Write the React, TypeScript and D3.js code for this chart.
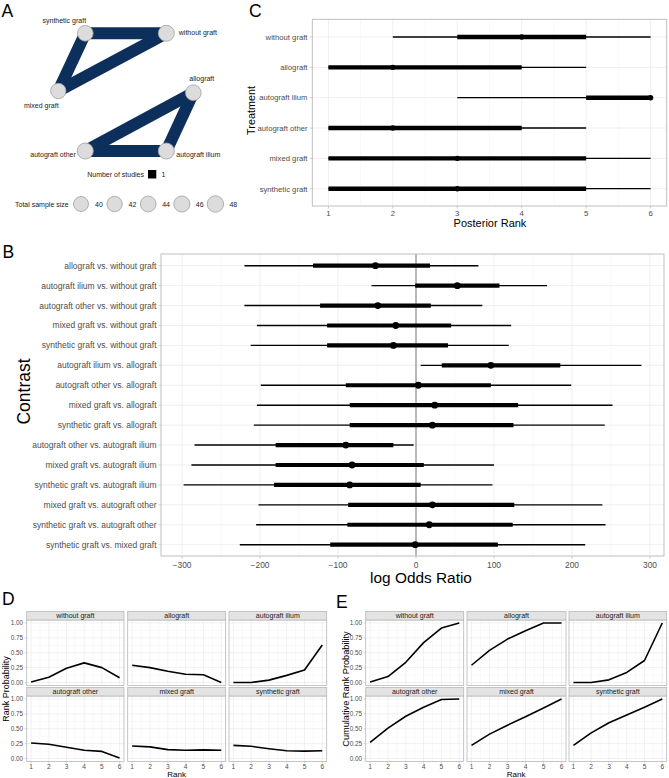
import React from "react";
import * as d3 from "d3";

// ---------- Network (panel A) ----------
const treatments = ["without graft", "allograft", "autograft ilium", "autograft other", "mixed graft", "synthetic graft"];
const netNodes = ["synthetic graft", "without graft", "mixed graft", "allograft", "autograft other", "autograft ilium"];
// layout coordinates in a unit square
const netLayoutX = [0.2, 0.8, 0.0, 1.0, 0.2, 0.8];
const netLayoutY = [0.0, 0.0, 0.49, 0.505, 1.0, 1.0];
const netSampleSize = [44, 46, 42, 44, 46, 46];
const netEdgeFrom = ["synthetic graft", "synthetic graft", "mixed graft", "allograft", "allograft", "autograft other"];
const netEdgeTo = ["without graft", "mixed graft", "without graft", "autograft other", "autograft ilium", "autograft ilium"];
const netEdgeStudies = [1, 1, 1, 1, 1, 1];
const sizeLegend = [40, 42, 44, 46, 48];

// ---------- Contrasts (panel B) ----------
const contrasts = [
  "allograft vs. without graft",
  "autograft ilium vs. without graft",
  "autograft other vs. without graft",
  "mixed graft vs. without graft",
  "synthetic graft vs. without graft",
  "autograft ilium vs. allograft",
  "autograft other vs. allograft",
  "mixed graft vs. allograft",
  "synthetic graft vs. allograft",
  "autograft other vs. autograft ilium",
  "mixed graft vs. autograft ilium",
  "synthetic graft vs. autograft ilium",
  "mixed graft vs. autograft other",
  "synthetic graft vs. autograft other",
  "synthetic graft vs. mixed graft",
];
const lorLow95 = [-220, -57, -220, -204, -212, 6, -199, -204, -208, -284, -288, -298, -202, -205, -226];
const lorLow50 = [-132, -1, -123, -114, -114, 33, -90, -85, -85, -180, -180, -182, -87, -88, -110];
const lorMedian = [-52, 53, -49, -26, -29, 96, 3, 24, 21, -90, -82, -85, 21, 17, -1];
const lorHigh50 = [18, 107, 19, 45, 41, 185, 96, 131, 125, -29, 10, 6, 126, 124, 105];
const lorHigh95 = [80, 168, 85, 122, 119, 289, 199, 252, 242, -3, 100, 98, 239, 243, 217];
const lorTicks = [-300, -200, -100, 0, 100, 200, 300];

// ---------- Posterior ranks (panel C) ----------
const rankLow = [2, 1, 3, 1, 1, 1];
const rankQ1 = [3, 1, 5, 1, 1, 1];
const rankMedian = [4, 2, 6, 2, 3, 3];
const rankQ3 = [5, 4, 6, 4, 5, 5];
const rankHigh = [6, 5, 6, 5, 6, 6];
const rankTicks = [1, 2, 3, 4, 5, 6];

// ---------- Rank probabilities (panel D) ----------
const probWithoutGraft = [0.01, 0.09, 0.24, 0.33, 0.25, 0.08];
const probAllograft = [0.29, 0.25, 0.19, 0.14, 0.13, 0.0];
const probAutograftIlium = [0.0, 0.0, 0.04, 0.12, 0.21, 0.63];
const probAutograftOther = [0.26, 0.24, 0.19, 0.14, 0.12, 0.01];
const probMixedGraft = [0.21, 0.195, 0.15, 0.14, 0.145, 0.14];
const probSyntheticGraft = [0.22, 0.205, 0.165, 0.13, 0.125, 0.13];

// ---------- Cumulative rank probabilities (panel E) ----------
const cumWithoutGraft = [0.01, 0.1, 0.34, 0.67, 0.915, 1.0];
const cumAllograft = [0.29, 0.54, 0.73, 0.87, 1.0, 1.0];
const cumAutograftIlium = [0.0, 0.0, 0.045, 0.17, 0.37, 1.0];
const cumAutograftOther = [0.27, 0.51, 0.71, 0.86, 0.99, 1.0];
const cumMixedGraft = [0.22, 0.41, 0.56, 0.7, 0.85, 1.0];
const cumSyntheticGraft = [0.22, 0.43, 0.6, 0.73, 0.86, 1.0];
const probTicks = [0, 0.25, 0.5, 0.75, 1];

const FONT = "'Liberation Sans', Arial, Helvetica, sans-serif";
const GRID = "#e8e8e8";
const GRID_MINOR = "#f3f3f3";
const BORDER = "#b8b8b8";
const TICK_TXT = "#4d4d4d";

function PanelLabel({ x, y, t }: { x: number; y: number; t: string }) {
  return (
    <text x={x} y={y} fontSize={17.5} fontFamily={FONT} fill="#000">
      {t}
    </text>
  );
}

function NetworkPanel() {
  const sx = d3.scaleLinear().domain([0, 1]).range([58.3, 193.3]);
  const sy = d3.scaleLinear().domain([0, 1]).range([33.3, 151]);
  const r = d3.scaleSqrt().domain([0, 48]).range([0, 8.2]);
  const edgeW = d3.scaleLinear().domain([0, 1]).range([0, 12]);
  const pos = new Map(netNodes.map((n, i) => [n, [sx(netLayoutX[i]), sy(netLayoutY[i])]]));
  const labelAnchor: Record<string, { dx: number; dy: number; anchor: string }> = {
    "synthetic graft": { dx: -21, dy: -10, anchor: "middle" },
    "without graft": { dx: 12.5, dy: 1.5, anchor: "start" },
    "mixed graft": { dx: -17, dy: 17.5, anchor: "middle" },
    "allograft": { dx: 8.5, dy: -11.5, anchor: "middle" },
    "autograft other": { dx: -9.5, dy: 5.5, anchor: "end" },
    "autograft ilium": { dx: 10, dy: 5.5, anchor: "start" },
  };
  return (
    <g>
      {netEdgeFrom.map((f, i) => {
        const a = pos.get(f)!;
        const b = pos.get(netEdgeTo[i])!;
        return (
          <line key={i} x1={a[0]} y1={a[1]} x2={b[0]} y2={b[1]} stroke="#0d2f5c" strokeWidth={edgeW(netEdgeStudies[i])} />
        );
      })}
      {netNodes.map((n, i) => {
        const p = pos.get(n)!;
        const la = labelAnchor[n];
        return (
          <g key={n}>
            <circle cx={p[0]} cy={p[1]} r={r(netSampleSize[i])} fill="#dcdcdc" stroke="#a0a0a0" strokeWidth={0.8} />
            <text x={p[0] + la.dx} y={p[1] + la.dy} fontSize={7} fontFamily={FONT} textAnchor={la.anchor} fill="#222">
              {n}
            </text>
          </g>
        );
      })}
      {/* legend: edge weight */}
      <text x={144} y={176.5} fontSize={7} fontFamily={FONT} textAnchor="end" fill="#222">
        Number of studies
      </text>
      <rect x={148} y={170} width={8.3} height={8.5} fill="#000" />
      <text x={161.5} y={176.5} fontSize={7} fontFamily={FONT} fill="#222">
        {netEdgeStudies[0]}
      </text>
      {/* legend: node size */}
      <text x={15} y={206.5} fontSize={7} fontFamily={FONT} fill="#222">
        Total sample size
      </text>
      {sizeLegend.map((s, i) => {
        const cx = 81 + i * 33.6;
        return (
          <g key={s}>
            <circle cx={cx} cy={204} r={r(s)} fill="#dcdcdc" stroke="#a0a0a0" strokeWidth={0.8} />
            <text x={cx + 14} y={206.5} fontSize={7} fontFamily={FONT} fill="#222">
              {s}
            </text>
          </g>
        );
      })}
    </g>
  );
}

function ContrastPanel() {
  const left = 161, right = 664, top = 254, bottom = 556;
  const x = d3.scaleLinear().domain([-327, 318]).range([left, right]);
  const y = d3.scalePoint<string>().domain(contrasts).range([265.7, 544.7]);
  const minor = lorTicks.slice(0, -1).map((t) => t + 50).concat([lorTicks[0] - 50]).filter((t) => t > -327 && t < 318);
  return (
    <g fontFamily={FONT}>
      <rect x={left} y={top} width={right - left} height={bottom - top} fill="#fff" />
      {minor.map((t) => (
        <line key={"m" + t} x1={x(t)} x2={x(t)} y1={top} y2={bottom} stroke={GRID_MINOR} strokeWidth={0.5} />
      ))}
      {lorTicks.map((t) => (
        <line key={t} x1={x(t)} x2={x(t)} y1={top} y2={bottom} stroke={GRID} strokeWidth={0.7} />
      ))}
      {contrasts.map((c) => (
        <line key={c} x1={left} x2={right} y1={y(c)} y2={y(c)} stroke={GRID} strokeWidth={0.7} />
      ))}
      <line x1={x(0)} x2={x(0)} y1={top} y2={bottom} stroke="#7a7a7a" strokeWidth={1} />
      {contrasts.map((c, i) => {
        const cy = y(c)!;
        return (
          <g key={c}>
            <line x1={x(lorLow95[i])} x2={x(lorHigh95[i])} y1={cy} y2={cy} stroke="#000" strokeWidth={1.4} />
            <line x1={x(lorLow50[i])} x2={x(lorHigh50[i])} y1={cy} y2={cy} stroke="#000" strokeWidth={4.2} />
            <circle cx={x(lorMedian[i])} cy={cy} r={3.4} fill="#000" />
          </g>
        );
      })}
      <rect x={left} y={top} width={right - left} height={bottom - top} fill="none" stroke={BORDER} strokeWidth={0.9} />
      {contrasts.map((c) => (
        <g key={c}>
          <line x1={left - 2.5} x2={left} y1={y(c)} y2={y(c)} stroke={BORDER} strokeWidth={0.7} />
          <text x={left - 4.5} y={y(c)! + 3} fontSize={8.5} textAnchor="end" fill={TICK_TXT}>
            {c}
          </text>
        </g>
      ))}
      {lorTicks.map((t) => (
        <g key={t}>
          <line x1={x(t)} x2={x(t)} y1={bottom} y2={bottom + 2.5} stroke={BORDER} strokeWidth={0.7} />
          <text x={x(t)} y={567.8} fontSize={8.4} textAnchor="middle" fill={TICK_TXT}>
            {t < 0 ? "\u2212" + Math.abs(t) : t}
          </text>
        </g>
      ))}
      <text x={421} y={582.5} fontSize={15.4} textAnchor="middle" fill="#000">
        log Odds Ratio
      </text>
      <text transform="translate(30,391.5) rotate(-90)" fontSize={17.5} textAnchor="middle" fill="#000">
        Contrast
      </text>
    </g>
  );
}

function RankPanel() {
  const left = 312.3, right = 666.7, top = 19.3, bottom = 206;
  const x = d3.scaleLinear().domain([0.75, 6.25]).range([left, right]);
  const y = d3.scalePoint<string>().domain(treatments).range([37, 188.7]);
  return (
    <g fontFamily={FONT}>
      <rect x={left} y={top} width={right - left} height={bottom - top} fill="#fff" />
      {rankTicks.slice(0, -1).map((t) => (
        <line key={"m" + t} x1={x(t + 0.5)} x2={x(t + 0.5)} y1={top} y2={bottom} stroke={GRID_MINOR} strokeWidth={0.5} />
      ))}
      {rankTicks.map((t) => (
        <line key={t} x1={x(t)} x2={x(t)} y1={top} y2={bottom} stroke={GRID} strokeWidth={0.7} />
      ))}
      {treatments.map((c) => (
        <line key={c} x1={left} x2={right} y1={y(c)} y2={y(c)} stroke={GRID} strokeWidth={0.7} />
      ))}
      {treatments.map((c, i) => {
        const cy = y(c)!;
        return (
          <g key={c}>
            <line x1={x(rankLow[i])} x2={x(rankHigh[i])} y1={cy} y2={cy} stroke="#000" strokeWidth={1.3} />
            <line x1={x(rankQ1[i])} x2={x(rankQ3[i])} y1={cy} y2={cy} stroke="#000" strokeWidth={4.4} />
            <circle cx={x(rankMedian[i])} cy={cy} r={2.7} fill="#000" />
          </g>
        );
      })}
      <rect x={left} y={top} width={right - left} height={bottom - top} fill="none" stroke={BORDER} strokeWidth={0.9} />
      {treatments.map((c) => (
        <g key={c}>
          <line x1={left - 2.5} x2={left} y1={y(c)} y2={y(c)} stroke={BORDER} strokeWidth={0.7} />
          <text x={left - 4.8} y={y(c)! + 2.8} fontSize={7.7} textAnchor="end" fill={TICK_TXT}>
            {c}
          </text>
        </g>
      ))}
      {rankTicks.map((t) => (
        <g key={t}>
          <line x1={x(t)} x2={x(t)} y1={bottom} y2={bottom + 2.5} stroke={BORDER} strokeWidth={0.7} />
          <text x={x(t)} y={215.8} fontSize={7.8} textAnchor="middle" fill={TICK_TXT}>
            {t}
          </text>
        </g>
      ))}
      <text x={490} y={226.5} fontSize={11} textAnchor="middle" fill="#000">
        Posterior Rank
      </text>
      <text transform="translate(255,110.5) rotate(-90)" fontSize={10.8} textAnchor="middle" fill="#000">
        Treatment
      </text>
    </g>
  );
}

type FacetProps = {
  cols: [number, number][];
  series: number[][];
  yTitle: string;
  yTitleX: number;
  yTitleSize: number;
};

function FacetPanel({ cols, series, yTitle, yTitleX, yTitleSize }: FacetProps) {
  const rows: { strip: [number, number]; plot: [number, number] }[] = [
    { strip: [611.5, 620], plot: [620, 685.5] },
    { strip: [687.5, 696], plot: [696, 761.5] },
  ];
  const line = d3.line<[number, number]>();
  return (
    <g fontFamily={FONT}>
      {treatments.map((name, k) => {
        const row = rows[Math.floor(k / 3)];
        const col = cols[k % 3];
        const x = d3.scaleLinear().domain([0.75, 6.25]).range(col);
        const y = d3.scaleLinear().domain([-0.05, 1.05]).range([row.plot[1], row.plot[0]]);
        const vals = series[k];
        const pts = vals.map((v, i) => [x(rankTicks[i]), y(v)] as [number, number]);
        const firstCol = k % 3 === 0;
        const lastRow = k >= 3;
        return (
          <g key={name}>
            <rect x={col[0]} y={row.plot[0]} width={col[1] - col[0]} height={row.plot[1] - row.plot[0]} fill="#fff" />
            {rankTicks.slice(0, -1).map((t) => (
              <line key={"mx" + t} x1={x(t + 0.5)} x2={x(t + 0.5)} y1={row.plot[0]} y2={row.plot[1]} stroke={GRID_MINOR} strokeWidth={0.5} />
            ))}
            {probTicks.slice(0, -1).map((t) => (
              <line key={"my" + t} x1={col[0]} x2={col[1]} y1={y(t + 0.125)} y2={y(t + 0.125)} stroke={GRID_MINOR} strokeWidth={0.5} />
            ))}
            {rankTicks.map((t) => (
              <line key={"x" + t} x1={x(t)} x2={x(t)} y1={row.plot[0]} y2={row.plot[1]} stroke={GRID} strokeWidth={0.6} />
            ))}
            {probTicks.map((t) => (
              <line key={"y" + t} x1={col[0]} x2={col[1]} y1={y(t)} y2={y(t)} stroke={GRID} strokeWidth={0.6} />
            ))}
            <path d={line(pts) || ""} fill="none" stroke="#000" strokeWidth={1.6} strokeLinejoin="round" />
            <rect x={col[0]} y={row.plot[0]} width={col[1] - col[0]} height={row.plot[1] - row.plot[0]} fill="none" stroke={BORDER} strokeWidth={0.8} />
            <rect x={col[0]} y={row.strip[0]} width={col[1] - col[0]} height={row.strip[1] - row.strip[0]} fill="#e3e3e3" stroke={BORDER} strokeWidth={0.8} />
            <text x={(col[0] + col[1]) / 2} y={row.strip[1] - 2} fontSize={7} textAnchor="middle" fill="#1a1a1a">
              {name}
            </text>
            {firstCol &&
              probTicks.map((t) => (
                <g key={"yl" + t}>
                  <line x1={col[0] - 2} x2={col[0]} y1={y(t)} y2={y(t)} stroke={BORDER} strokeWidth={0.6} />
                  <text x={col[0] - 3.5} y={y(t) + 2.3} fontSize={6.4} textAnchor="end" fill={TICK_TXT}>
                    {t.toFixed(2)}
                  </text>
                </g>
              ))}
            {lastRow &&
              rankTicks.map((t) => (
                <g key={"xl" + t}>
                  <line x1={x(t)} x2={x(t)} y1={row.plot[1]} y2={row.plot[1] + 2} stroke={BORDER} strokeWidth={0.6} />
                  <text x={x(t)} y={769.2} fontSize={6.6} textAnchor="middle" fill={TICK_TXT}>
                    {t}
                  </text>
                </g>
              ))}
          </g>
        );
      })}
      <text x={(cols[0][0] + cols[2][1]) / 2} y={776.5} fontSize={8} textAnchor="middle" fill="#000">
        Rank
      </text>
      <text transform={`translate(${yTitleX},689) rotate(-90)`} fontSize={yTitleSize} textAnchor="middle" fill="#000">
        {yTitle}
      </text>
    </g>
  );
}

export default function App() {
  const rankProbSeries = [probWithoutGraft, probAllograft, probAutograftIlium, probAutograftOther, probMixedGraft, probSyntheticGraft];
  const cumSeries = [cumWithoutGraft, cumAllograft, cumAutograftIlium, cumAutograftOther, cumMixedGraft, cumSyntheticGraft];
  return (
    <div style={{ position: "absolute", left: 0, top: 0 }}>
      <svg width={669} height={778} viewBox="0 0 669 778" style={{ display: "block", background: "#fff" }}>
        <rect width={669} height={778} fill="#fff" />
        <PanelLabel x={1.5} y={16.5} t="A" />
        <NetworkPanel />
        <PanelLabel x={249} y={16.5} t="C" />
        <RankPanel />
        <PanelLabel x={2.5} y={258} t="B" />
        <ContrastPanel />
        <PanelLabel x={2} y={605} t="D" />
        <FacetPanel
          cols={[[26.7, 124], [127.7, 225.7], [229, 326.7]]}
          series={rankProbSeries}
          yTitle="Rank Probability"
          yTitleX={8.5}
          yTitleSize={9}
        />
        <PanelLabel x={336} y={608} t="E" />
        <FacetPanel
          cols={[[365.7, 463.7], [467, 566], [569, 666.7]]}
          series={cumSeries}
          yTitle="Cumulative Rank Probability"
          yTitleX={349}
          yTitleSize={9.2}
        />
      </svg>
    </div>
  );
}
